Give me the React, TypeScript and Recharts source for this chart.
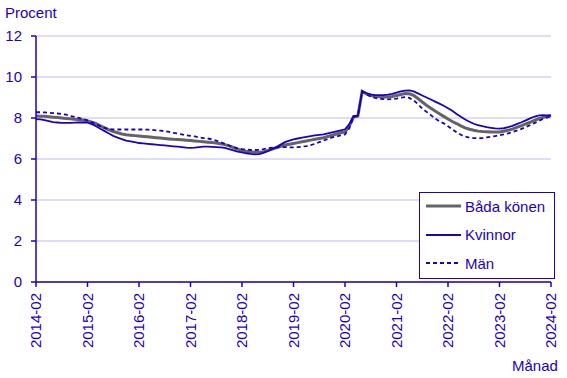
import React from 'react';
import { LineChart, Line, XAxis, YAxis, CartesianGrid } from 'recharts';

const BLUE = '#1E00BE';
const GREY = '#646464';
const GRID = '#BCBCF2';
const FONT = '"Liberation Sans", Arial, sans-serif';

// 2014-02 .. 2024-02, one entry per month
const months: string[] = [];
for (let y = 2014; y <= 2024; y++) {
    for (let m = 1; m <= 12; m++) {
        if ((y === 2014 && m < 2) || (y === 2024 && m > 2)) continue;
        months.push(`${y}-${String(m).padStart(2, '0')}`);
    }
}

const xTicks = ['2014-02', '2015-02', '2016-02', '2017-02', '2018-02', '2019-02', '2020-02', '2021-02', '2022-02', '2023-02', '2024-02'];
const yTicks = [0, 2, 4, 6, 8, 10, 12];

const badaKonen = [
    8.10, 8.09, 8.08, 8.06, 8.04, 8.02, 8.00, 7.98, 7.96, 7.94, 7.92, 7.90,
    7.86, 7.80, 7.72, 7.62, 7.52, 7.42, 7.34, 7.28, 7.22, 7.18, 7.16, 7.14,
    7.12, 7.10, 7.08, 7.06, 7.04, 7.02, 7.00, 6.98, 6.96, 6.95, 6.94, 6.92,
    6.90, 6.88, 6.86, 6.84, 6.82, 6.80, 6.78, 6.74, 6.70, 6.64, 6.56, 6.48,
    6.42, 6.38, 6.35, 6.33, 6.33, 6.36, 6.42, 6.48, 6.55, 6.62, 6.68, 6.72,
    6.76, 6.80, 6.84, 6.88, 6.92, 6.96, 7.00, 7.04, 7.10, 7.16, 7.22, 7.28,
    7.32, 7.60, 8.05, 8.10, 9.30, 9.18, 9.10, 9.06, 9.04, 9.02, 9.02, 9.05,
    9.10, 9.15, 9.19, 9.18, 9.10, 8.95, 8.78, 8.62, 8.48, 8.34, 8.21, 8.08,
    7.95, 7.83, 7.73, 7.62, 7.52, 7.45, 7.40, 7.36, 7.34, 7.33, 7.32, 7.32,
    7.32, 7.35, 7.40, 7.46, 7.54, 7.62, 7.70, 7.78, 7.87, 7.95, 8.02, 8.08,
    8.12,
];

const kvinnor = [
    7.95, 7.93, 7.90, 7.85, 7.80, 7.78, 7.76, 7.76, 7.76, 7.77, 7.78, 7.78,
    7.77, 7.70, 7.60, 7.48, 7.36, 7.24, 7.13, 7.04, 6.97, 6.90, 6.86, 6.82,
    6.78, 6.76, 6.74, 6.72, 6.70, 6.68, 6.66, 6.64, 6.62, 6.60, 6.58, 6.55,
    6.54, 6.55, 6.58, 6.60, 6.60, 6.59, 6.58, 6.57, 6.54, 6.48, 6.42, 6.36,
    6.32, 6.28, 6.25, 6.23, 6.24, 6.30, 6.38, 6.48, 6.58, 6.70, 6.82, 6.90,
    6.96, 7.00, 7.04, 7.08, 7.12, 7.15, 7.18, 7.20, 7.25, 7.30, 7.35, 7.40,
    7.45, 7.70, 8.10, 8.12, 9.30, 9.22, 9.15, 9.12, 9.12, 9.12, 9.14, 9.18,
    9.24, 9.30, 9.34, 9.35, 9.30, 9.20, 9.10, 9.00, 8.90, 8.80, 8.70, 8.60,
    8.48, 8.35, 8.20, 8.06, 7.93, 7.82, 7.72, 7.65, 7.60, 7.55, 7.52, 7.49,
    7.48, 7.50, 7.55, 7.62, 7.70, 7.78, 7.87, 7.97, 8.06, 8.12, 8.14, 8.13,
    8.12,
];

const man = [
    8.28, 8.28, 8.27, 8.26, 8.24, 8.22, 8.20, 8.16, 8.10, 8.05, 8.00, 7.95,
    7.88, 7.80, 7.70, 7.60, 7.52, 7.46, 7.44, 7.44, 7.44, 7.44, 7.44, 7.44,
    7.44, 7.44, 7.43, 7.42, 7.40, 7.38, 7.36, 7.32, 7.28, 7.24, 7.20, 7.16,
    7.13, 7.10, 7.06, 7.02, 7.00, 6.96, 6.90, 6.82, 6.74, 6.66, 6.58, 6.52,
    6.48, 6.46, 6.44, 6.44, 6.45, 6.48, 6.52, 6.55, 6.57, 6.58, 6.58, 6.57,
    6.57, 6.58, 6.60, 6.63, 6.68, 6.74, 6.82, 6.90, 6.98, 7.05, 7.10, 7.15,
    7.20, 7.50, 8.05, 8.10, 9.30, 9.15, 9.04, 8.98, 8.94, 8.92, 8.91, 8.92,
    8.95, 8.99, 9.02, 8.98, 8.86, 8.68, 8.46, 8.30, 8.14, 7.98, 7.84, 7.74,
    7.60, 7.45, 7.30, 7.18, 7.09, 7.04, 7.02, 7.01, 7.02, 7.05, 7.08, 7.12,
    7.16, 7.20, 7.25, 7.31, 7.38, 7.46, 7.55, 7.64, 7.74, 7.84, 7.94, 8.02,
    8.08,
];

const data = months.map((month, i) => ({
    month,
    bada: badaKonen[i],
    kvinnor: kvinnor[i],
    man: man[i],
}));

const XTick = (props: any) => {
    const { x, y, payload } = props;
    return (
        <g transform={`translate(${x},${y})`}>
            <text
                x={-4}
                y={0}
                dy="0.36em"
                transform="rotate(-90)"
                textAnchor="end"
                fill={BLUE}
                fontSize={15}
                fontFamily={FONT}
            >
                {payload.value}
            </text>
        </g>
    );
};

const legendItems = [
    { label: 'Båda könen', color: GREY, width: 3, dash: undefined },
    { label: 'Kvinnor', color: BLUE, width: 1.8, dash: undefined },
    { label: 'Män', color: BLUE, width: 1.8, dash: '4 3' },
];

// drawn as an overlay so it does not take space from the plot
const ChartLegend = () => (
    <div
        style={{
            position: 'absolute',
            left: 419,
            top: 192,
            width: 136,
            height: 87,
            border: `1.5px solid ${BLUE}`,
            background: '#fff',
            boxSizing: 'border-box',
            fontFamily: FONT,
            fontSize: 15,
            color: BLUE,
        }}
    >
        {legendItems.map((item, i) => (
            <div key={item.label} style={{ position: 'absolute', left: 6, top: 4 + i * 28.5, height: 18, display: 'flex', alignItems: 'center' }}>
                <svg width={36} height={10} style={{ marginRight: 3 }}>
                    <line x1={0} y1={5} x2={35} y2={5} stroke={item.color} strokeWidth={item.width} strokeDasharray={item.dash} />
                </svg>
                <span>{item.label}</span>
            </div>
        ))}
    </div>
);

export default function App() {
    return (
        <div style={{ position: 'absolute', left: 0, top: 0, width: 567, height: 378, background: '#fff' }}>
            <div style={{ position: 'absolute', left: 5, top: 5, fontFamily: FONT, fontSize: 15, lineHeight: '15px', color: BLUE }}>
                Procent
            </div>
            <div style={{ position: 'absolute', left: 512, top: 358, fontFamily: FONT, fontSize: 15, lineHeight: '15px', color: BLUE }}>
                Månad
            </div>
            <LineChart width={567} height={378} data={data} margin={{ top: 36, right: 16, bottom: 0, left: 0 }}>
                <CartesianGrid vertical={false} stroke={GRID} strokeWidth={1} />
                <XAxis
                    dataKey="month"
                    ticks={xTicks}
                    interval={0}
                    height={96}
                    tickSize={5}
                    axisLine={{ stroke: BLUE, strokeWidth: 1.5 }}
                    tickLine={{ stroke: BLUE, strokeWidth: 1.5 }}
                    tick={<XTick />}
                />
                <YAxis
                    domain={[0, 12]}
                    ticks={yTicks}
                    width={36}
                    tickSize={5}
                    tickMargin={9}
                    axisLine={{ stroke: BLUE, strokeWidth: 1.5 }}
                    tickLine={{ stroke: BLUE, strokeWidth: 1.5 }}
                    tick={{ fill: BLUE, fontSize: 15, fontFamily: FONT }}
                />
                <Line
                    type="linear"
                    dataKey="bada"
                    name="Båda könen"
                    stroke={GREY}
                    strokeWidth={3}
                    dot={false}
                    isAnimationActive={false}
                />
                <Line
                    type="linear"
                    dataKey="kvinnor"
                    name="Kvinnor"
                    stroke={BLUE}
                    strokeWidth={1.8}
                    dot={false}
                    isAnimationActive={false}
                />
                <Line
                    type="linear"
                    dataKey="man"
                    name="Män"
                    stroke={BLUE}
                    strokeWidth={1.8}
                    strokeDasharray="4 3"
                    dot={false}
                    isAnimationActive={false}
                />
            </LineChart>
            <ChartLegend />
        </div>
    );
}
